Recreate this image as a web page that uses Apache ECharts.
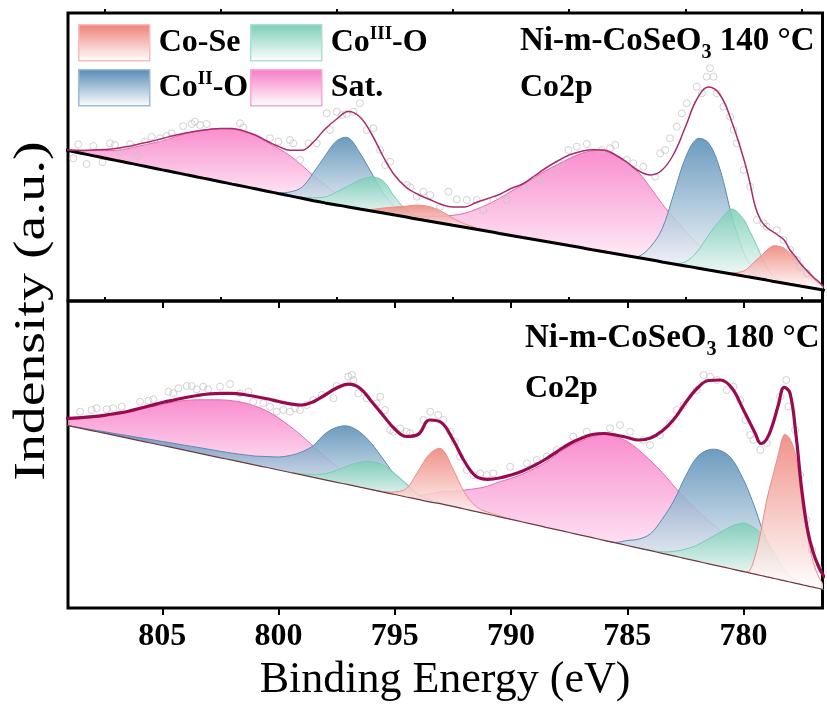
<!DOCTYPE html>
<html><head><meta charset="utf-8">
<script src="https://cdn.jsdelivr.net/npm/echarts@6/dist/echarts.min.js"></script>
<style>html,body{margin:0;padding:0;background:#fff}#c{width:827px;height:713px}</style>
</head><body><div id="c"></div>
<script>
// Binding energy sampling grid (eV)
const energy = [809.5,809,808.5,808,807.5,807,806.5,806,805.5,805,804.5,804,803.5,803,802.5,802,801.5,801,800.5,800,
799.5,799,798.5,798,797.5,797,796.5,796,795.5,795,794.5,794,793.5,793,792.5,792,791.5,791,790.5,790,
789.5,789,788.5,788,787.5,787,786.5,786,785.5,785,784.5,784,783.5,783,782.5,782,781.5,781,780.5,780,
779.75,779.5,779.25,779,778.75,778.5,778.25,778,777.75,777.5,777.25,777,776.75,776.5];
const majorTicks = [805, 800, 795, 790, 785, 780];
const minorTicks = [807.5, 802.5, 797.5, 792.5, 787.5, 782.5, 777.5];

// ---- Ni-m-CoSeO3 140 °C (top panel) ----
const topBaseline = [152.5,150.1,147.8,145.4,143.0,140.6,138.3,135.9,133.5,131.1,128.8,126.4,124.0,121.7,119.3,116.9,114.6,112.2,109.8,107.4,
105.1,102.7,100.3,98.1,96.1,94.1,92.0,90.0,88.0,85.9,83.9,81.8,79.8,77.8,75.7,73.7,71.7,69.7,67.6,65.6,
63.5,61.5,59.5,57.5,55.4,53.4,51.3,49.3,47.3,45.2,43.2,41.2,39.1,37.1,35.1,33.1,31.0,29.0,27.0,24.9,
23.9,22.9,21.9,20.9,19.8,18.8,17.8,16.8,15.8,14.7,13.7,12.7,11.7,10.6];
const topSat = [0.5,1,3,5,7.5,10,14,19,24,29,35,41,46,50,53,55,55,53,49,45,
40,33,25,18,11,6,3,1.5,1,0,1.5,3,5,7,10,14,20,27,35,44,
53,62,71,79,87,94,99,101,98,92,85,72,58,46,35,25,16,10,6,3,
2,1.5,1,0.5,0,0,0,0,0,0,0,0,0,0];
const topCoII = [0,0,0,0,0,0,0,0,0,0,0,0,0,0,0,0,0,0,0.5,1,
4,11,28,47,64,69,56,38,20,9,3.5,1,0.3,0,0,0,0,0,0,0,
0,0,0,0,0,0,0,0,0,0,1.5,13,33,70,108,129,127,102,58,24,
14,7,3,1,0.3,0,0,0,0,0,0,0,0,0];
const topCoIII = [0,0,0,0,0,0,0,0,0,0,0,0,0,0,0,0,0,0,0,0,
0,1,3,6,13,21,29,34,32,18,7,2,0.5,0,0,0,0,0,0,0,
0,0,0,0,0,0,0,0,0,0,0,0,0,0.5,4,16,35,52,65,57,
47,36,24,13,6,2.5,1,0.3,0,0,0,0,0,0];
const topCoSe = [0,0,0,0,0,0,0,0,0,0,0,0,0,0,0,0,0,0,0,0,
0,0,0,0,0,0,0,1.5,5,8,11,14,14.5,12,7,3.5,1.5,0.5,0,0,
0,0,0,0,0,0,0,0,0,0,0,0,0,0,0,0,0,0,1,5,
10,17,23,30,35,36,35,31,27,22,15,10,6,2.5];
const topEnvelope = [153,151,150.5,151,151.5,152.5,154.5,157,159.5,162.5,165.5,168,170,171.5,172.5,172.5,170,166,160,154.5,
150.7,150.7,159,172,182,189.5,184,167,144.5,125.5,113.5,106.5,101.5,96.5,94,94,98.5,102.5,106.5,112.5,
117,125,133,140,146,149.5,151.3,151,146,138.5,130,126,131,147,174,202,214,206,179,143,
121,95,80.5,73.5,69.5,65.5,61,51,44,36,30,24,19,13];
const topPoints = [[808.83,142.7],[808.62,156.7],[808.26,137],[807.97,155],[807.57,138.7],[807.25,157.7],[807.04,156],[806.82,149.3],[806.39,156.7],[806.10,144.3],
[805.75,159.3],[805.46,164.3],[805.10,162.7],[804.81,165],[804.60,167.7],[804.10,175],[803.74,177],[803.60,179.3],[803.38,176],[803.09,177],
[801.66,177.7],[801.52,173.7],[800.37,162.7],[800.01,159.3],[799.51,161],[799.37,157.7],[799.08,141],[798.72,157.7],[798.36,157.7],[797.93,187.7],
[797.79,171],[797.50,189.3],[797.28,186],[797.07,187],[796.78,189.3],[796.50,197.7],[796.21,171],[795.92,172.7],[795.63,151],[795.42,136],
[795.20,139.3],[794.49,116],[794.34,113.7],[794.06,104.3],[793.77,109.3],[793.48,106],[793.05,94.3],[792.70,109.3],[792.33,101.7],[791.90,101],
[791.47,101],[791.19,91],[790.76,101],[790.18,101],[789.47,114.3],[788.75,121],[788.18,129.3],[787.89,137.7],[787.53,151],[787.17,154.3],
[786.74,157],[786.10,151],[785.74,152.7],[785.52,156],[785.02,141],[784.74,137.7],[784.31,134.3],[783.80,124.3],[783.58,147.7],[783.37,151],
[783.16,162.7],[782.87,174.3],[782.65,187.7],[782.44,197.7],[782.01,214.3],[781.79,207.7],[781.58,224.3],[781.44,232.7],[781.29,224.3],[781.15,207.7],
[780.86,194.3],[780.57,184.3],[780.43,171],[780.29,157.7],[780.00,131],[779.71,114.3],[779.43,81],[779.14,77.7],[779.00,74.3],[778.57,71],
[778.28,61],[777.99,51],[777.70,41],[777.56,34.3],[777.27,27.7]];

// ---- Ni-m-CoSeO3 180 °C (bottom panel) ----
const botBaseline = [184.6,182.1,179.7,177.2,174.8,172.3,169.9,167.4,165.0,162.5,160.1,157.6,155.2,152.7,150.2,147.8,145.3,142.9,140.5,138.0,
135.5,133.1,130.6,128.2,125.7,123.3,120.8,118.4,115.9,113.5,111.0,108.6,106.1,104.2,101.6,99.0,96.4,93.8,91.2,88.6,
86.0,83.4,80.7,78.1,75.5,72.9,70.3,67.7,65.1,62.5,59.9,57.3,54.7,52.1,49.4,46.8,44.2,41.6,39.0,36.4,
35.1,33.8,32.5,31.2,29.9,28.6,27.3,26.0,24.7,23.4,22.1,20.8,19.5,18.2];
const botSat = [5,7,10,13.5,17,21,26,31,36,41,46,50,53,55.5,58,59.5,60,59,56.5,52,
46,39,31,23,16,10,6,3,1.5,0,2,4,8,12,15,19,23,28,35,41,
48,56,65,76,86,94,101,106,106,104,98,90,81,70,60,51,43,36,28,20,
16,12,9,6,4,2.5,1.5,1,0.5,0,0,0,0,0];
const botCoII = [0,0,0.5,1,1.5,2,2.5,3,3.5,4,4.5,5,5.5,6,6.5,7,8,9,11,13,
17,23,32,46,55,58.5,55,46,33,20,13,5,2,0.8,0.3,0,0,0,0,0,
0,0,0,0,0,0,0,0,0.5,5,9,17,34,55,82,104,114,116,110,92,
80,66,50,36,22,12,6,3,1,0,0,0,0,0];
const botCoIII = [0,0,0,0,0,0,0,0,0,0,0,0,0,0,0,0,0,0,0,0,
0,1,3,6,12,19,25,28,27,21,13,4,1,0.3,0,0,0,0,0,0,
0,0,0,0,0,0,0,0,0,0,0,0.5,1.5,4.5,9.5,16,25,34,43,48.5,
48,46,42,36,28,19,11,6,3,1,0,0,0,0];
const botCoSe = [0,0,0,0,0,0,0,0,0,0,0,0,0,0,0,0,0,0,0,0,
0,0,0,0,0,0,0,0,0.5,2.5,8.5,28,48,55,37.5,16.5,5,2,1,0,
0,0,0,0,0,0,0,0,0,0,0,0,0,0,0,0,0,0,0,0.5,
2,18,44,77,101,125,146,143,127,85,50,25,11,3];
const botEnvelope = [190,189.7,190.3,191.3,192.7,194.5,196.5,199.5,202.5,205.5,208,210.5,212.5,214,214.7,214.7,213.5,211.5,209.2,206.5,
204.2,203,206.3,213,220,223.8,219.8,206.5,192.5,179,171.5,173.5,188,185.5,168.5,146.5,131.5,128.7,130,133,
137,142.5,149,156.7,164,169.5,173.5,174.5,173,170.5,168,170,177,188.5,205,219.5,227.5,228,220,198,
186.5,175,164.5,169,183,203,220.7,215,175,120,79,55.5,40.5,30];
const botPoints = [[808.54,196.3],[808.04,198],[807.83,199.7],[807.40,198.7],[807.11,199.7],[806.75,201.3],[805.96,206.3],[805.60,207.3],[805.39,208.7],[804.74,216.3],
[804.53,214.7],[804.31,219.7],[803.95,222],[803.74,222],[803.52,218.7],[803.24,221.3],[803.03,218.7],[802.52,221.3],[802.09,224],[801.66,214.7],
[801.30,216.3],[801.09,206.3],[800.66,204.7],[800.37,201.3],[800.08,196.3],[799.80,198],[799.51,196.3],[799.29,199.7],[799.08,198],[798.79,203],
[798.51,208],[798.14,213],[797.64,209.7],[797.50,222],[797.00,231.3],[796.85,233],[796.78,228],[796.57,214.7],[796.21,209.7],[795.78,204.7],
[795.63,211.3],[795.42,198],[795.20,178],[795.06,176.3],[794.77,179.7],[794.49,176.3],[794.34,174.7],[793.77,188],[793.48,196.3],[793.13,193],
[792.91,188],[792.62,176.3],[792.41,166.3],[792.19,151.3],[791.90,138],[791.62,133],[791.33,134.7],[791.05,133],[790.76,134.7],[790.04,141.3],
[789.32,144.7],[788.89,148],[788.46,151.3],[788.03,158],[787.32,171.3],[786.74,176.3],[785.74,179.7],[785.31,183],[784.88,176.3],[784.31,168],
[784.02,163],[783.59,173],[783.16,184.7],[782.87,198],[782.58,203],[782.01,218],[781.72,233],[781.43,231.3],[781.15,228],[780.72,218],
[780.43,221.3],[780.14,208],[779.92,188],[779.71,173],[779.57,168],[779.28,158],[778.99,164.7],[778.42,211.3],[778.16,228],[778.07,201.3],
[777.78,178],[777.56,133],[777.30,88],[777.05,58],[776.79,40]];

// ---------- styling & assembly ----------
const FONT = 'Liberation Serif';
const xMin = 776.6, xMax = 809.06;
const compStyle = {
  'Sat.':    {rgb:[248,122,198], line:'#e36bb0', border:'#f4a9d4'},
  'CoII-O':  {rgb:[84,138,180],  line:'#5b8bb1', border:'#9bbbd4'},
  'CoIII-O': {rgb:[122,206,182], line:'#78ccb5', border:'#ade0d2'},
  'Co-Se':   {rgb:[238,128,118], line:'#ec8c84', border:'#f8bebc'}
};
function grad(rgb, a) {
  return new echarts.graphic.LinearGradient(0,0,0,1,[
    {offset:0, color:'rgba('+rgb.join(',')+','+a+')'},
    {offset:1, color:'rgba(255,255,255,'+a+')'}]);
}
function runsOf(arr){
  const r=[]; let i=0;
  while(i<arr.length){
    if(arr[i]>0){ const s=i; while(i<arr.length && arr[i]>0) i++; r.push([Math.max(0,s-1), Math.min(arr.length-1,i)]); }
    else i++;
  }
  return r;
}
const series = [];
function addPanel(p, base, comps, env, pts, envStyle, baseStyle){
  comps.forEach(function(c){
    const name=c[0], arr=c[1], st=compStyle[name];
    runsOf(arr).forEach(function(rg){
      const s=rg[0], e=rg[1];
      series.push({name:name, type:'custom', xAxisIndex:p*2, yAxisIndex:p, silent:true, z:2, clip:true,
        data:[[energy[s], base[s]]],
        renderItem:function(params, api){
          const top=[], bot=[];
          for(let j=s;j<=e;j++){
            top.push(api.coord([energy[j], base[j]+arr[j]]));
            bot.push(api.coord([energy[j], base[j]]));
          }
          const poly = top.concat(bot.slice().reverse());
          return {type:'group', children:[
            {type:'polygon', shape:{points:poly, smooth:0.35}, style:{fill:grad(st.rgb,0.85), stroke:null}},
            {type:'polyline', shape:{points:top, smooth:0.35}, style:{fill:null, stroke:st.line, lineWidth:1}}
          ]};
        }
      });
    });
  });
  series.push({type:'scatter', xAxisIndex:p*2, yAxisIndex:p, silent:true, symbol:'circle', symbolSize:7, z:3,
    itemStyle:{color:'rgba(255,255,255,0)', borderColor:'#c6c6c6', borderWidth:1}, data:pts});
  series.push({type:'line', xAxisIndex:p*2, yAxisIndex:p, silent:true, symbol:'none', smooth:0.3, z:4,
    lineStyle:baseStyle, data:energy.map(function(x,i){return [x, base[i]];})});
  series.push({type:'line', xAxisIndex:p*2, yAxisIndex:p, silent:true, symbol:'none', smooth:0.4, z:5,
    lineStyle:envStyle, data:energy.map(function(x,i){return [x, env[i]];})});
}
addPanel(0, topBaseline, [['Sat.',topSat],['CoII-O',topCoII],['CoIII-O',topCoIII],['Co-Se',topCoSe]],
  topEnvelope, topPoints, {color:'#a82d6a', width:1.5}, {color:'#000', width:3});
addPanel(1, botBaseline, [['Sat.',botSat],['CoII-O',botCoII],['CoIII-O',botCoIII],['Co-Se',botCoSe]],
  botEnvelope, botPoints, {color:'#980b50', width:3.2}, {color:'#6e3a3f', width:1.2});

function xAxis(grid, ticks, len, labels){
  return {type:'value', gridIndex:grid, min:xMin, max:xMax, inverse:true,
    axisLine:{show:false}, splitLine:{show:false},
    axisTick:{show:true, customValues:ticks, length:len, inside:false, lineStyle:{color:'#000', width:2}},
    axisLabel: labels ? {show:true, customValues:ticks, margin:13, fontFamily:FONT, fontSize:32, fontWeight:'bold', color:'#000'} : {show:false}};
}
const legendCommon = {padding:0, itemWidth:71, itemHeight:36, selectedMode:false, icon:'rect',
  formatter:function(n){return ({'CoIII-O':'Co{sup|III}-O','CoII-O':'Co{sup|II}-O'})[n] || n;},
  textStyle:{fontFamily:FONT, fontWeight:'bold', fontSize:32, color:'#000', lineHeight:36, padding:[0,0,0,4],
    rich:{sup:{fontFamily:FONT, fontWeight:'bold', fontSize:19, lineHeight:19, verticalAlign:'top', color:'#000'}}}};
function leg(name, left, top){
  const st = compStyle[name];
  return Object.assign({}, legendCommon, {left:left, top:top,
    data:[{name:name, icon:'rect', itemStyle:{color:grad(st.rgb,1), borderColor:st.border, borderWidth:1.5}}]});
}
const richTitle = {
  a:{fontFamily:FONT, fontWeight:'bold', fontSize:33, lineHeight:43, fill:'#000'},
  s:{fontFamily:FONT, fontWeight:'bold', fontSize:20, lineHeight:18, verticalAlign:'bottom', fill:'#000'}
};
const option = {
  animation:false,
  backgroundColor:'#fff',
  grid:[
    {left:68, right:4.5, top:13, height:288, show:true, borderColor:'#000', borderWidth:3, backgroundColor:'rgba(0,0,0,0)'},
    {left:68, right:4.5, top:301, height:307, show:true, borderColor:'#000', borderWidth:3, backgroundColor:'rgba(0,0,0,0)'}
  ],
  xAxis:[xAxis(0,majorTicks,7,false), xAxis(0,minorTicks,4,false), xAxis(1,majorTicks,7,true), xAxis(1,minorTicks,4,false)],
  yAxis:[{type:'value', gridIndex:0, min:0, max:288, show:false}, {type:'value', gridIndex:1, min:0, max:307, show:false}],
  legend:[leg('Co-Se',78,24), leg('CoIII-O',250,24), leg('CoII-O',78,69), leg('Sat.',250,69)],
  graphic:[
    {type:'text', x:520, y:41, z:100, style:{text:'{a|Ni-m-CoSeO}{s|3}{a| 140 °C}', rich:richTitle, align:'left', verticalAlign:'middle'}},
    {type:'text', x:520, y:87.5, z:100, style:{text:'Co2p', fontFamily:FONT, fontWeight:'bold', fontSize:32, fill:'#000', align:'left', verticalAlign:'middle'}},
    {type:'text', x:525, y:338.5, z:100, style:{text:'{a|Ni-m-CoSeO}{s|3}{a| 180 °C}', rich:richTitle, align:'left', verticalAlign:'middle'}},
    {type:'text', x:525, y:389, z:100, style:{text:'Co2p', fontFamily:FONT, fontWeight:'bold', fontSize:32, fill:'#000', align:'left', verticalAlign:'middle'}},
    {type:'text', x:445, y:680, z:100, style:{text:'Binding Energy (eV)', fontFamily:FONT, fontSize:44, fill:'#000', align:'center', verticalAlign:'middle'}},
    {type:'text', x:32, y:311, z:100, rotation:Math.PI/2, scaleX:1.24, style:{text:'Indensity (a.u.)', fontFamily:FONT, fontSize:45, fill:'#000', align:'center', verticalAlign:'middle'}}
  ],
  series:series
};
const chart = echarts.init(document.getElementById('c'));
chart.setOption(option);
</script>
</body></html>
